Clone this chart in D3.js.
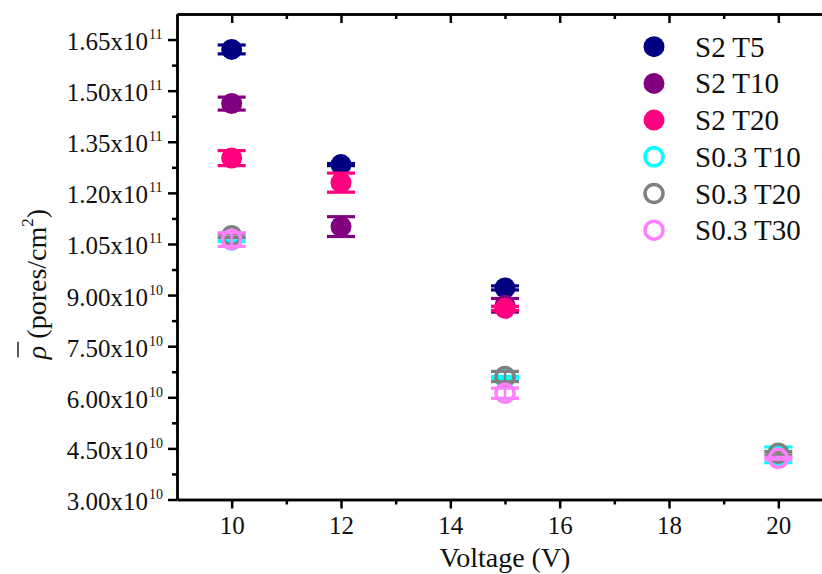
<!DOCTYPE html>
<html>
<head>
<meta charset="utf-8">
<script src="https://cdn.jsdelivr.net/npm/d3@7"></script>
<style>
  body { margin: 0; background: #fff; }
  svg { display: block; font-family: "Liberation Serif", "Times New Roman", serif; }
</style>
</head>
<body>
<div id="chart"></div>
<script>
// data (densities in units of 1e10 pores/cm2)
const voltages = [10, 12, 15, 20];
const seriesNames = ["S2 T5", "S2 T10", "S2 T20", "S0.3 T10", "S0.3 T20", "S0.3 T30"];
const seriesColors = ["#000080", "#800080", "#FF0080", "#00FFFF", "#808080", "#FF80FF"];
const seriesFilled = [true, true, true, false, false, false];

const s2t5Values = [16.21, 12.83, 9.21, null];
const s2t10Values = [14.62, 11.01, 8.70, null];
const s2t20Values = [13.02, 12.30, 8.61, null];
const s03t10Values = [10.62, null, 6.58, 4.31];
const s03t20Values = [10.74, null, 6.61, 4.36];
const s03t30Values = [10.63, null, 6.12, 4.21];

const s2t5Errors = [0.13, 0.03, 0.06, null];
const s2t10Errors = [0.19, 0.29, 0.20, null];
const s2t20Errors = [0.22, 0.28, 0.06, null];
const s03t10Errors = [0.05, null, 0.03, 0.23];
const s03t20Errors = [0.05, null, 0.15, 0.05];
const s03t30Errors = [0.20, null, 0.15, 0.03];

const allValues = [s2t5Values, s2t10Values, s2t20Values, s03t10Values, s03t20Values, s03t30Values];
const allErrors = [s2t5Errors, s2t10Errors, s2t20Errors, s03t10Errors, s03t20Errors, s03t30Errors];

const xMajorTicks = [10, 12, 14, 16, 18, 20];
const xMinorTicks = [11, 13, 15, 17, 19, 21];
const yMajorTicks = [3, 4.5, 6, 7.5, 9, 10.5, 12, 13.5, 15, 16.5];
const yMinorTicks = [3.75, 5.25, 6.75, 8.25, 9.75, 11.25, 12.75, 14.25, 15.75];
const yTickMantissa = ["3.00", "4.50", "6.00", "7.50", "9.00", "1.05", "1.20", "1.35", "1.50", "1.65"];
const yTickExponent = ["10", "10", "10", "10", "10", "11", "11", "11", "11", "11"];

// dimensions
const width = 822, height = 574;
const plot = { left: 177, right: 833, top: 14, bottom: 499.5 };

const svg = d3.select("#chart").append("svg")
  .attr("width", width)
  .attr("height", height);

// scales
const xScale = d3.scaleLinear().domain([9, 21]).range([plot.left, plot.right]);
const yScale = d3.scaleLinear().domain([3, 17.25]).range([plot.bottom, plot.top]);

// axes
function styleAxis(g) {
  g.attr("font-family", null).attr("font-size", null);
  g.selectAll("path.domain").attr("stroke", "#000").attr("stroke-width", 2.5);
  g.selectAll(".tick line").attr("stroke", "#000").attr("stroke-width", 2.5);
  g.selectAll(".tick text").remove();
}

// bottom
svg.append("g").attr("transform", `translate(0,${plot.bottom})`)
  .call(d3.axisBottom(xScale).tickValues(xMinorTicks).tickSize(5).tickSizeOuter(0))
  .call(styleAxis);
const xAxisG = svg.append("g").attr("transform", `translate(0,${plot.bottom})`)
  .call(d3.axisBottom(xScale).tickValues(xMajorTicks).tickSize(9).tickSizeOuter(0));
xAxisG.call(styleAxis);
xAxisG.selectAll(".tick").append("text")
  .attr("y", 34)
  .attr("text-anchor", "middle")
  .attr("fill", "#111")
  .attr("font-size", 25)
  .text(d => d);

// top (inward ticks)
svg.append("g").attr("transform", `translate(0,${plot.top})`)
  .call(d3.axisTop(xScale).tickValues(xMinorTicks).tickSize(-5).tickSizeOuter(0))
  .call(styleAxis);
svg.append("g").attr("transform", `translate(0,${plot.top})`)
  .call(d3.axisTop(xScale).tickValues(xMajorTicks).tickSize(-9).tickSizeOuter(0))
  .call(styleAxis);

// left
svg.append("g").attr("transform", `translate(${plot.left},0)`)
  .call(d3.axisLeft(yScale).tickValues(yMinorTicks).tickSize(5).tickSizeOuter(0))
  .call(styleAxis);
const yAxisG = svg.append("g").attr("transform", `translate(${plot.left},0)`)
  .call(d3.axisLeft(yScale).tickValues(yMajorTicks).tickSize(9).tickSizeOuter(0));
yAxisG.call(styleAxis);
yAxisG.selectAll(".tick").each(function(d, i) {
  const t = d3.select(this);
  t.append("text")
    .attr("x", -29)
    .attr("y", 10)
    .attr("text-anchor", "end")
    .attr("fill", "#111")
    .attr("font-size", 25)
    .text(yTickMantissa[i] + "x10");
  t.append("text")
    .attr("x", -28)
    .attr("y", -1)
    .attr("text-anchor", "start")
    .attr("fill", "#111")
    .attr("font-size", 14)
    .text(yTickExponent[i]);
});

// right (inward ticks)
svg.append("g").attr("transform", `translate(${plot.right},0)`)
  .call(d3.axisRight(yScale).tickValues(yMinorTicks).tickSize(-5).tickSizeOuter(0))
  .call(styleAxis);
svg.append("g").attr("transform", `translate(${plot.right},0)`)
  .call(d3.axisRight(yScale).tickValues(yMajorTicks).tickSize(-9).tickSizeOuter(0))
  .call(styleAxis);

// axis titles
svg.append("text")
  .attr("x", (plot.left + plot.right) / 2)
  .attr("y", 567)
  .attr("text-anchor", "middle")
  .attr("font-size", 28)
  .attr("fill", "#111")
  .text("Voltage (V)");

const yTitle = svg.append("g").attr("transform", "translate(46,284) rotate(-90)");
const yTitleText = yTitle.append("text")
  .attr("text-anchor", "middle")
  .attr("font-size", 28)
  .attr("fill", "#111");
yTitleText.append("tspan").attr("font-style", "italic").text("ρ");
yTitleText.append("tspan").text(" (pores/cm");
yTitleText.append("tspan").attr("font-size", 17).attr("dy", -13).text("2");
yTitleText.append("tspan").attr("dy", 13).text(")");
const rhoStart = yTitleText.node().getStartPositionOfChar(0);
const rhoEnd = yTitleText.node().getEndPositionOfChar(0);
yTitle.append("line")
  .attr("x1", rhoStart.x + 2).attr("x2", rhoEnd.x + 4)
  .attr("y1", -28).attr("y2", -28)
  .attr("stroke", "#333")
  .attr("stroke-width", 1.6);

// data points with error bars
const capHalf = 14;
const markerR = 10.5;
const openR = 9;

seriesNames.forEach((name, s) => {
  const color = seriesColors[s];
  const rows = voltages
    .map((v, i) => ({ x: v, y: allValues[s][i], e: allErrors[s][i] }))
    .filter(d => d.y !== null);

  const g = svg.append("g");
  const pts = g.selectAll("g.pt").data(rows).enter().append("g").attr("class", "pt");

  pts.append("line")
    .attr("x1", d => xScale(d.x)).attr("x2", d => xScale(d.x))
    .attr("y1", d => yScale(d.y - d.e)).attr("y2", d => yScale(d.y + d.e))
    .attr("stroke", color).attr("stroke-width", 2.5);
  [-1, 1].forEach(sign => {
    pts.append("line")
      .attr("x1", d => xScale(d.x) - capHalf).attr("x2", d => xScale(d.x) + capHalf)
      .attr("y1", d => yScale(d.y + sign * d.e)).attr("y2", d => yScale(d.y + sign * d.e))
      .attr("stroke", color).attr("stroke-width", 3.2);
  });

  pts.append("circle")
    .attr("cx", d => xScale(d.x))
    .attr("cy", d => yScale(d.y))
    .attr("r", seriesFilled[s] ? markerR : openR)
    .attr("fill", seriesFilled[s] ? color : "none")
    .attr("stroke", seriesFilled[s] ? "none" : color)
    .attr("stroke-width", 3.5);
});

// legend
const legend = svg.selectAll(".legend")
  .data(seriesNames)
  .enter().append("g")
  .attr("class", "legend")
  .attr("transform", (d, i) => `translate(654,${46.7 + i * 36.7})`);

legend.append("circle")
  .attr("r", (d, i) => seriesFilled[i] ? markerR : openR)
  .attr("fill", (d, i) => seriesFilled[i] ? seriesColors[i] : "none")
  .attr("stroke", (d, i) => seriesFilled[i] ? "none" : seriesColors[i])
  .attr("stroke-width", 3.5);

legend.append("text")
  .attr("x", 41)
  .attr("y", 10)
  .attr("font-size", 29)
  .attr("fill", "#111")
  .text(d => d);
</script>
</body>
</html>
